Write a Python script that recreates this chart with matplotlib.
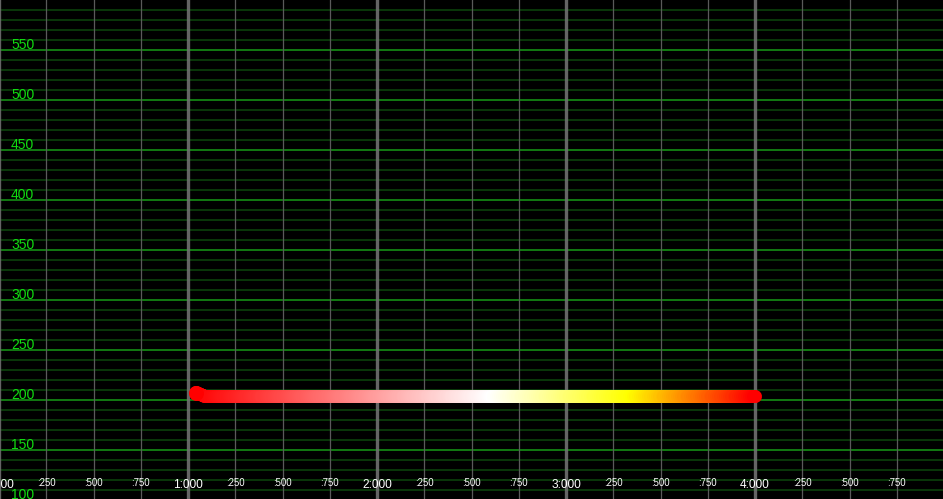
import numpy as np
import matplotlib
matplotlib.use("Agg")
import matplotlib.pyplot as plt
from matplotlib.collections import LineCollection
from matplotlib.colors import LinearSegmentedColormap
from matplotlib.transforms import blended_transform_factory

# ---- data ----
line_x = [1.042, 1.085, 4.0]
line_y = [207.0, 203.5, 203.5]
major_x_ticks = [0, 1, 2, 3, 4]
major_x_labels = ["0:000", "1:000", "2:000", "3:000", "4:000"]
minor_x_offsets = [0.25, 0.5, 0.75]
minor_x_labels = [":250", ":500", ":750"]
y_label_values = [100, 150, 200, 250, 300, 350, 400, 450, 500, 550]
grad_stops = [(0.0, "#ff0000"), (0.53, "#ffffff"), (0.78, "#ffff00"), (1.0, "#ff0000")]

W, H = 943, 499
fig = plt.figure(figsize=(W / 100, H / 100), dpi=100, facecolor="black")
ax = fig.add_axes([0, 0, 1, 1])
ax.set_facecolor("black")
for s in ax.spines.values():
    s.set_visible(False)
ax.set_xticks([])
ax.set_yticks([])

xmin = 1 / 189
xmax = xmin + W / 189
ymin, ymax = 100.5, 599.5
ax.set_xlim(xmin, xmax)
ax.set_ylim(ymin, ymax)

# horizontal grid (green)
for v in range(110, 600, 10):
    if v % 50 == 0:
        ax.axhline(v, color="#127a12", lw=1.4, zorder=1)
    else:
        ax.axhline(v, color="#0b420b", lw=1.2, zorder=1)

# vertical grid
for m in major_x_ticks:
    ax.axvline(m, color="#707070", lw=2.4, zorder=2, alpha=0.9)
    for off in minor_x_offsets:
        ax.axvline(m + off, color="#5a5a5a", lw=0.9, zorder=2)

font = "Liberation Sans"
trans_x = blended_transform_factory(ax.transData, ax.transAxes)
# x labels
for m, lab in zip(major_x_ticks, major_x_labels):
    ax.text(m, 13.5 / H, lab, transform=trans_x, ha="center", va="center",
            color="white", fontsize=8.6, family=font, zorder=5)
    for off, ml in zip(minor_x_offsets, minor_x_labels):
        ax.text(m + off, 16 / H, ml, transform=trans_x, ha="center", va="center",
                color="white", fontsize=6.9, family=font, zorder=5)

# y labels
trans_y = blended_transform_factory(ax.transAxes, ax.transData)
for v in y_label_values:
    ax.text(11 / W, v + 0.5, str(v), transform=trans_y, ha="left", va="baseline",
            color="#11dd11", fontsize=10, family=font, zorder=5)

# gradient line
cmap = LinearSegmentedColormap.from_list("grad", grad_stops)
xs, ys = [], []
for i in range(len(line_x) - 1):
    n = max(2, int((line_x[i + 1] - line_x[i]) * 300))
    t = np.linspace(0, 1, n, endpoint=(i == len(line_x) - 2))
    xs.extend(line_x[i] + t * (line_x[i + 1] - line_x[i]))
    ys.extend(line_y[i] + t * (line_y[i + 1] - line_y[i]))
xs = np.array(xs)
ys = np.array(ys)
pts = np.column_stack([xs, ys]).reshape(-1, 1, 2)
segs = np.concatenate([pts[:-1], pts[1:]], axis=1)
cvals = (xs[:-1] - line_x[0]) / (line_x[-1] - line_x[0])
lc = LineCollection(segs, colors=cmap(cvals), linewidths=13 * 0.72,
                    capstyle="round", joinstyle="round", zorder=6)
ax.add_collection(lc)
ax.scatter([line_x[0]], [line_y[0]], s=(15 * 0.72) ** 2, color="#ff0000", zorder=7,
           linewidths=0)

fig.savefig("out.png", dpi=100, facecolor="black")
